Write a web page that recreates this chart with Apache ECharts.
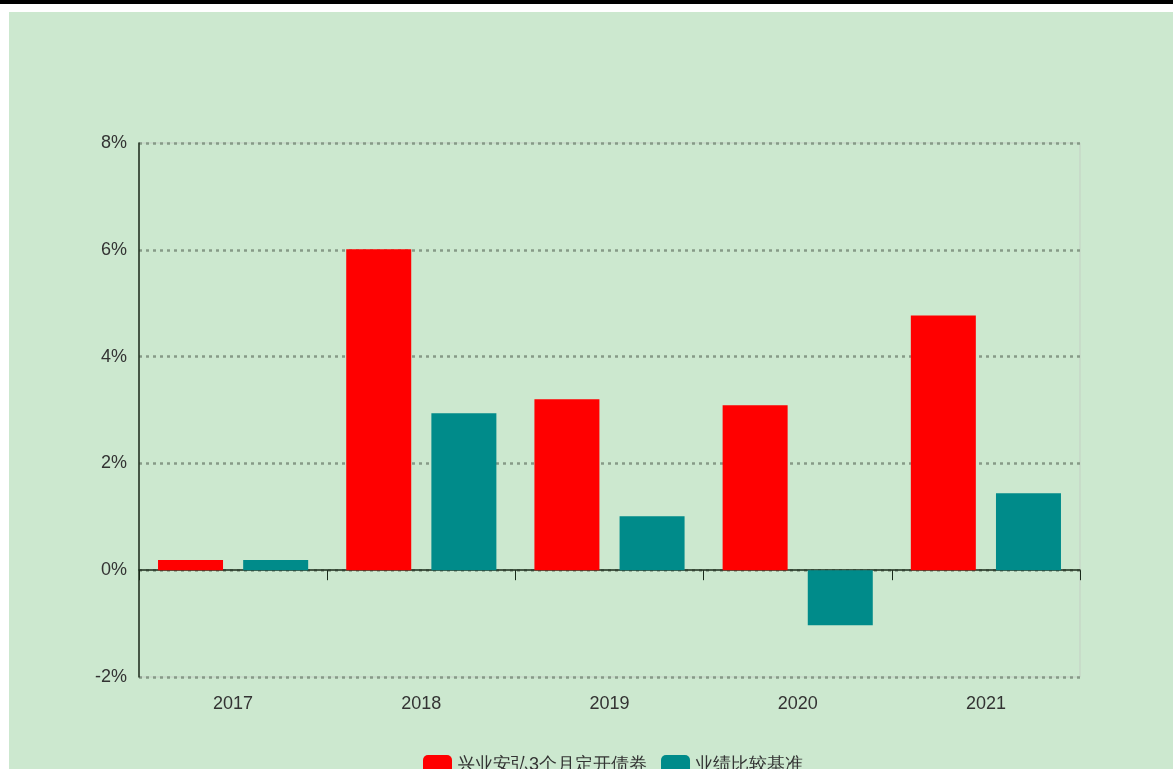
<!DOCTYPE html>
<html>
<head>
<meta charset="utf-8">
<script src="https://cdn.jsdelivr.net/npm/echarts@6/dist/echarts.min.js"></script>
<style>
html,body{margin:0;padding:0;background:#fff;width:1173px;height:769px;overflow:hidden;}
#bar{position:absolute;left:0;top:0;width:1173px;height:4px;background:#000;}
#chart{position:absolute;left:9px;top:12px;width:1164px;height:757px;background:#cce8cf;}
</style>
</head>
<body>
<div id="bar"></div>
<div id="chart"></div>
<script>
const categories = ['2017', '2018', '2019', '2020', '2021'];
const fundName = '兴业安弘3个月定开债券';
const benchName = '业绩比较基准';
const fundValues = [0.19, 6.01, 3.2, 3.09, 4.77];
const benchValues = [0.19, 2.94, 1.01, -1.03, 1.44];
const yTicks = { min: -2, max: 8, interval: 2 };

const chart = echarts.init(document.getElementById('chart'));
const font = '"Liberation Sans Narrow", "Liberation Sans", Arial, sans-serif';
chart.setOption({
  backgroundColor: 'transparent',
  animation: false,
  grid: { left: 130, right: 93, top: 131, bottom: 92, show: true, borderColor: '#c4cfc4', borderWidth: 1, backgroundColor: 'transparent' },
  legend: {
    left: 409, top: 738,
    itemWidth: 29, itemHeight: 20, itemGap: 14,
    icon: 'roundRect',
    textStyle: { fontSize: 18, color: '#333', fontFamily: font },
    data: [fundName, benchName]
  },
  xAxis: [
    {
      type: 'category', data: categories, position: 'bottom',
      axisLine: { show: false, onZero: false },
      axisTick: { show: false },
      axisLabel: { fontSize: 18, color: '#333', margin: 18, fontFamily: font },
      splitLine: { show: false }
    },
    {
      type: 'category', data: categories,
      axisLine: { show: true, onZero: true, lineStyle: { color: '#1a2a1a', width: 1.5 } },
      axisTick: { show: true, inside: true, length: 10, lineStyle: { color: '#1a2a1a' } },
      axisLabel: { show: false },
      splitLine: { show: false }
    }
  ],
  yAxis: {
    type: 'value', min: yTicks.min, max: yTicks.max, interval: yTicks.interval,
    axisLine: { show: true, lineStyle: { color: '#1a2a1a', width: 1.5 } },
    axisTick: { show: false },
    axisLabel: { formatter: '{value}%', fontSize: 18, color: '#333', margin: 12, fontFamily: font },
    splitLine: { show: true, lineStyle: { type: [3, 4], color: '#869a88', width: 2.5 } }
  },
  series: [
    { name: fundName, type: 'bar', data: fundValues, barWidth: 65, barGap: '31%', itemStyle: { color: '#ff0000' }, z: 1 },
    { name: benchName, type: 'bar', data: benchValues, barWidth: 65, itemStyle: { color: '#008b8a' }, z: 1 }
  ]
});
</script>
</body>
</html>
